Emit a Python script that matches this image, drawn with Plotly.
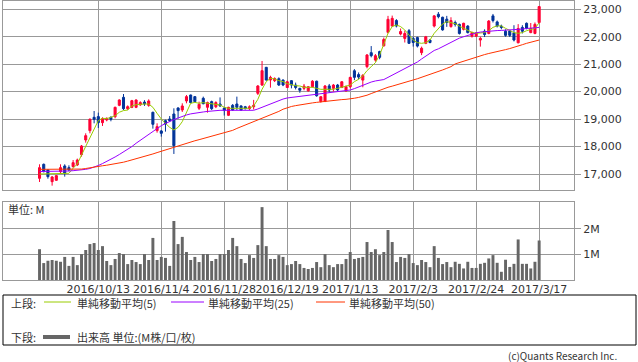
import pandas as pd
import plotly.graph_objects as go

# ---- data ----
holidays = ["2016-09-22", "2016-10-10", "2016-11-03", "2016-11-23", "2016-12-23",
            "2017-01-02", "2017-01-03", "2017-01-09"]
days = [d for d in pd.bdate_range("2016-09-21", "2017-03-17") if d.strftime("%Y-%m-%d") not in holidays]
dates = [d.strftime("%Y-%m-%d") for d in days]

opens = [16842, 17353, 17147, 16721, 16770, 17086, 17292, 17231, 17268, 17329,
         17704, 18239, 18580, 19065, 19090, 18870, 18968, 19065, 19089, 19502,
         19793, 19380, 19429, 19429, 19520, 19620, 19500, 19247, 18580, 18568,
         18943, 19004, 19186, 19405, 19332, 19660, 19878, 19818, 19393, 19757,
         19430, 19636, 19450, 19550, 19400, 19138, 19500, 19550, 19480, 19450,
         19380, 19450, 19939, 20242, 20886, 20424, 20400, 20470, 20424, 20150,
         20400, 20240, 20120, 20120, 20030, 20180, 20380, 19640, 19640, 20210,
         20120, 20240, 20150, 20030, 20180, 20760, 20620, 20420, 20911, 21420,
         21150, 21460, 21670, 22160, 22390, 22590, 22100, 21940, 22220, 21940,
         21970, 21420, 21760, 21880, 22390, 22820, 22710, 22640, 22370, 22520,
         22450, 22270, 22390, 22020, 22020, 21880, 22200, 22120, 22760, 22540,
         22390, 22200, 22210, 22140, 21780, 22340, 22490, 22150, 22120, 22520]
highs = [17353, 17380, 17160, 16927, 16960, 17353, 17353, 17316, 17510, 17560,
         18056, 18482, 19029, 19295, 19235, 19065, 19060, 19100, 19453, 19720,
         19914, 19500, 19700, 19720, 19650, 19690, 19720, 19270, 18846, 18600,
         18980, 19110, 19393, 19430, 19575, 19878, 19890, 19840, 19636, 19818,
         19636, 19672, 19650, 19790, 19430, 19450, 19550, 19818, 19500, 19480,
         19500, 19700, 20240, 21117, 20900, 20580, 20520, 20520, 20440, 20400,
         20420, 20330, 20140, 20280, 20200, 20420, 20400, 19830, 20240, 20280,
         20280, 20280, 20380, 20220, 20540, 20820, 20700, 20640, 21370, 21660,
         21370, 21490, 21970, 22760, 22770, 22640, 22300, 22220, 22280, 22000,
         22000, 21640, 22030, 21920, 22790, 22900, 22730, 22760, 22710, 22590,
         22480, 22510, 22420, 22180, 22170, 22000, 22270, 22610, 22830, 22590,
         22440, 22270, 22250, 22420, 22460, 22420, 22520, 22500, 22520, 23120]
lows = [16709, 17060, 16830, 16575, 16750, 17026, 16904, 17100, 17231, 17290,
        17632, 18142, 18482, 18846, 18676, 18750, 18920, 18920, 19029, 19470,
        19331, 19331, 19400, 19400, 19480, 19480, 19450, 18652, 18506, 18360,
        18543, 18900, 17730, 19016, 19260, 19575, 19575, 19610, 19330, 19540,
        19235, 19330, 19400, 19440, 19130, 19110, 19300, 19330, 19300, 19350,
        19330, 19350, 19878, 20206, 20400, 20145, 20350, 20206, 20200, 20150,
        20120, 20080, 19960, 20050, 20000, 20150, 19815, 19600, 19620, 19960,
        20000, 20010, 20130, 19990, 20120, 20420, 20450, 20160, 20850, 21250,
        21090, 21180, 21640, 22120, 22370, 22340, 22050, 21790, 21740, 21640,
        21610, 21330, 21730, 21760, 22340, 22670, 22220, 22360, 22330, 22370,
        22080, 22230, 22120, 21970, 21990, 21640, 21990, 22090, 22520, 22340,
        22270, 22000, 21990, 21830, 21760, 22120, 22270, 22130, 22090, 22490]
closes = [17231, 17086, 16904, 16891, 16940, 17231, 17026, 17150, 17413, 17510,
          18020, 18397, 18992, 18992, 18870, 19017, 19029, 18992, 19429, 19696,
          19380, 19453, 19672, 19696, 19600, 19550, 19660, 18810, 18725, 18482,
          18822, 18943, 18033, 19308, 19478, 19818, 19599, 19636, 19538, 19560,
          19600, 19380, 19600, 19480, 19320, 19429, 19330, 19430, 19330, 19380,
          19450, 19500, 20206, 20764, 20424, 20520, 20480, 20242, 20242, 20360,
          20240, 20150, 20050, 20200, 20180, 20380, 19850, 19815, 20206, 20060,
          20240, 20060, 20360, 20180, 20520, 20520, 20530, 20590, 21336, 21310,
          21310, 21250, 21900, 22635, 22670, 22390, 22190, 22120, 21760, 21790,
          21660, 21580, 22000, 21790, 22760, 22730, 22250, 22520, 22590, 22450,
          22120, 22490, 22150, 22160, 22140, 21940, 22080, 22570, 22590, 22390,
          22340, 22050, 22050, 21880, 22300, 22200, 22310, 22300, 22450, 23100]

ma5 = [17000, 17000, 17025, 17025, 17025, 17025, 17000, 17025, 17210, 17365,
       17690, 18000, 18300, 18665, 18945, 19030, 19015, 19065, 19120, 19250,
       19310, 19330, 19478, 19525, 19550, 19550, 19550, 19430, 19210, 19004,
       18846, 18700, 18604, 18700, 18907, 19270, 19575, 19610, 19575, 19600,
       19575, 19540, 19515, 19515, 19430, 19393, 19393, 19393, 19393, 19393,
       19393, 19478, 19720, 20085, 20364, 20485, 20460, 20400, 20364, 20290,
       20242, 20218, 20206, 20157, 20157, 20157, 20120, 20085, 20085, 20085,
       20085, 20120, 20157, 20180, 20242, 20364, 20450, 20570, 20765, 20910,
       21055, 21335, 21760, 22125, 22370, 22430, 22370, 22245, 22065, 21880,
       21785, 21760, 21785, 21880, 22125, 22306, 22465, 22550, 22510, 22475,
       22385, 22306, 22220, 22160, 22125, 22125, 22150, 22220, 22343, 22395,
       22395, 22306, 22220, 22150, 22125, 22150, 22220, 22270, 22306, 22510]
ma25 = [17090, 17090, 17090, 17090, 17100, 17100, 17110, 17110, 17120, 17130,
        17145, 17170, 17200, 17250, 17310, 17380, 17450, 17530, 17620, 17710,
        17800, 17900, 18000, 18120, 18230, 18340, 18450, 18560, 18660, 18760,
        18840, 18920, 18980, 19040, 19100, 19150, 19190, 19220, 19240, 19260,
        19280, 19300, 19310, 19320, 19320, 19320, 19320, 19315, 19310, 19310,
        19310, 19320, 19370, 19430, 19500, 19560, 19620, 19680, 19730, 19770,
        19790, 19810, 19830, 19850, 19870, 19890, 19910, 19930, 19940, 19960,
        19980, 20000, 20020, 20040, 20060, 20110, 20170, 20230, 20300, 20350,
        20390, 20410, 20440, 20520, 20600, 20680, 20740, 20820, 20920, 21010,
        21080, 21190, 21290, 21400, 21500, 21560, 21640, 21720, 21820, 21880,
        21950, 22000, 22050, 22090, 22140, 22170, 22190, 22210, 22220, 22225,
        22230, 22235, 22240, 22245, 22260, 22280, 22300, 22310, 22325, 22340]
ma50 = [17170, 17170, 17170, 17170, 17170, 17170, 17170, 17170, 17170, 17170,
        17180, 17200, 17218, 17240, 17270, 17300, 17320, 17345, 17370, 17390,
        17430, 17470, 17510, 17550, 17590, 17630, 17680, 17730, 17780, 17830,
        17880, 17930, 17980, 18030, 18080, 18130, 18170, 18210, 18250, 18290,
        18330, 18380, 18420, 18460, 18500, 18540, 18590, 18660, 18720, 18780,
        18840, 18900, 18960, 19030, 19100, 19160, 19220, 19280, 19360, 19420,
        19460, 19490, 19520, 19540, 19560, 19590, 19610, 19630, 19650, 19670,
        19690, 19700, 19710, 19720, 19730, 19760, 19790, 19820, 19870, 19930,
        19990, 20060, 20120, 20160, 20200, 20250, 20290, 20330, 20380, 20425,
        20470, 20520, 20570, 20620, 20680, 20730, 20790, 20850, 20910, 21010,
        21060, 21110, 21160, 21220, 21270, 21310, 21350, 21390, 21420, 21450,
        21490, 21530, 21570, 21610, 21660, 21710, 21760, 21800, 21840, 21880]

volume_m = [1.2, 0.66, 0.75, 0.78, 0.75, 0.71, 0.9, 0.55, 0.9, 0.58,
            1.01, 1.17, 1.4, 1.44, 1.17, 1.32, 0.74, 0.58, 0.82, 1.05,
            1.01, 0.62, 0.78, 0.7, 0.62, 1.01, 0.78, 1.64, 0.78, 0.9,
            0.86, 0.55, 2.3, 1.4, 1.68, 1.09, 0.78, 0.9, 0.7, 1.01,
            1.01, 0.74, 0.82, 1.01, 1.01, 1.17, 1.64, 1.32, 0.82, 0.66,
            0.97, 0.86, 1.36, 2.84, 1.32, 0.82, 0.82, 0.97, 0.9, 0.58,
            0.62, 0.74, 0.62, 0.47, 0.43, 0.47, 0.7, 0.5, 1.01, 0.58,
            0.5, 0.62, 0.62, 0.82, 1.09, 0.82, 0.86, 0.9, 1.48, 1.09,
            1.2, 0.97, 1.09, 1.95, 1.48, 0.7, 0.9, 0.86, 1.01, 0.66,
            0.58, 0.78, 0.7, 0.5, 1.32, 0.86, 0.62, 0.7, 0.5, 0.71,
            0.63, 0.45, 0.71, 0.47, 0.47, 0.63, 0.67, 0.84, 0.97, 0.67,
            0.32, 0.79, 0.51, 0.63, 1.58, 0.63, 0.63, 0.45, 0.71, 1.54]

tick_dates = ["2016-10-13", "2016-11-04", "2016-11-28", "2016-12-19",
              "2017-01-13", "2017-02-03", "2017-02-24", "2017-03-17"]
tick_labels = ["2016/10/13", "2016/11/4", "2016/11/28", "2016/12/19",
               "2017/1/13", "2017/2/3", "2017/2/24", "2017/3/17"]
price_ticks = [17000, 18000, 19000, 20000, 21000, 22000, 23000]
vol_ticks = [1, 2]
vol_tick_labels = ["1M", "2M"]

# ---- styling ----
W, H = 638, 362
RED = "#ff0033"
BLUE = "#003399"
GRID = "#999999"
TXT = "#333333"
JP = "Noto Sans CJK JP"
NUM = "DejaVu Sans"

def px(x):
    return x / W

def py(y):
    return 1 - y / H

xrange_ = [-8.7, 127.3]

fig = go.Figure()
fig.add_trace(go.Candlestick(
    x=dates, open=opens, high=highs, low=lows, close=closes,
    increasing=dict(line=dict(color=RED, width=1), fillcolor=RED),
    decreasing=dict(line=dict(color=BLUE, width=1), fillcolor=BLUE),
    whiskerwidth=0, xaxis="x", yaxis="y", hoverinfo="skip"))
for vals, col in [(ma5, "#99cc00"), (ma25, "#9900ff"), (ma50, "#ff3300")]:
    fig.add_trace(go.Scatter(x=dates, y=vals, mode="lines",
                             line=dict(color=col, width=1),
                             xaxis="x", yaxis="y", hoverinfo="skip"))
fig.add_trace(go.Bar(x=dates, y=volume_m, marker=dict(color="#666666", line=dict(width=0)),
                     xaxis="x2", yaxis="y2", hoverinfo="skip"))

axis_common = dict(showline=True, mirror=True, linecolor=GRID, linewidth=1,
                   gridcolor=GRID, gridwidth=1, zeroline=False, automargin=False)

fig.update_layout(
    width=W, height=H, margin=dict(l=0, r=0, t=0, b=0, autoexpand=False),
    paper_bgcolor="white", plot_bgcolor="white",
    showlegend=False, bargap=0.3,
    xaxis=dict(domain=[px(3), px(574)], anchor="y", type="category",
               categoryorder="array", categoryarray=dates,
               range=xrange_, tickvals=tick_dates, showticklabels=False,
               ticks="", rangeslider=dict(visible=False), showgrid=True, **axis_common),
    yaxis=dict(domain=[py(190), py(1)], anchor="x", side="right",
               range=[16417, 23302], tickvals=price_ticks, tickformat=",",
               ticks="outside", ticklen=6, tickcolor=GRID,
               tickfont=dict(family=NUM, size=11, color=TXT), showgrid=True, **axis_common),
    xaxis2=dict(domain=[px(3), px(574)], anchor="y2", type="category",
                categoryorder="array", categoryarray=dates,
                range=xrange_, tickvals=tick_dates, ticktext=tick_labels,
                ticks="", tickfont=dict(family=NUM, size=11, color=TXT),
                ticklabelstandoff=-1,
                tickangle=0, showgrid=True, **axis_common),
    yaxis2=dict(domain=[py(280), py(202)], anchor="x2", side="right",
                range=[0, 3.04], tickvals=vol_ticks, ticktext=vol_tick_labels,
                ticks="outside", ticklen=6, tickcolor=GRID,
                tickfont=dict(family=NUM, size=11, color=TXT), showgrid=True, **axis_common),
)

shapes = [
    dict(type="rect", xref="paper", yref="paper", x0=px(3), x1=px(636), y0=py(345), y1=py(295),
         line=dict(color="black", width=1), fillcolor="rgba(0,0,0,0)"),
    dict(type="line", xref="paper", yref="paper", x0=px(44), x1=px(71), y0=py(302), y1=py(302),
         line=dict(color="#99cc00", width=1)),
    dict(type="line", xref="paper", yref="paper", x0=px(171), x1=px(204), y0=py(302), y1=py(302),
         line=dict(color="#9900ff", width=1)),
    dict(type="line", xref="paper", yref="paper", x0=px(316), x1=px(345), y0=py(302), y1=py(302),
         line=dict(color="#ff3300", width=1)),
    dict(type="line", xref="paper", yref="paper", x0=px(43), x1=px(70), y0=py(337), y1=py(337),
         line=dict(color="#666666", width=4)),
]
fig.update_layout(shapes=shapes)

def ann(text, x, y, anchor="left", size=11):
    fig.add_annotation(text=text, xref="paper", yref="paper", x=px(x), y=py(y),
                       xanchor=anchor, yanchor="middle", showarrow=False, borderpad=0,
                       font=dict(family=JP, size=size, color=TXT))

ann("単位: M", 7, 209)
ann("上段:", 10, 303)
ann("単純移動平均(5)", 76, 303)
ann("単純移動平均(25)", 207, 303)
ann("単純移動平均(50)", 348, 303)
ann("下段:", 10, 337)
ann("出来高 単位:(M株/口/枚)", 76, 337)
ann("(c)Quants Research Inc.", 618, 355, anchor="right", size=10)

fig.write_html("out.html", config={"displayModeBar": False},
               post_script="document.body.style.margin='0px';document.body.style.padding='0px';")
